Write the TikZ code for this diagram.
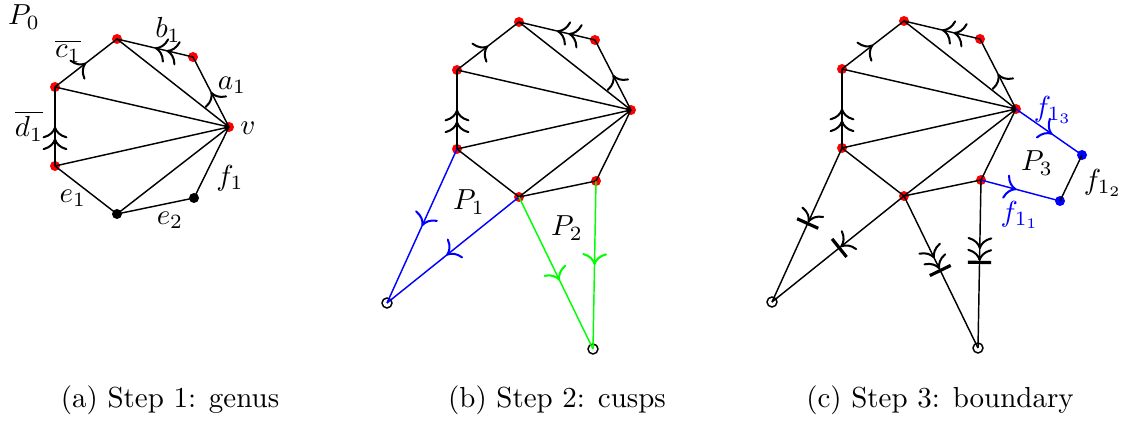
\documentclass[tikz,border=0pt]{standalone}
\usetikzlibrary{arrows.meta,decorations.markings}
\definecolor{vertred}{RGB}{255,0,0}
\definecolor{cuspblue}{RGB}{0,0,255}
\definecolor{cuspgreen}{RGB}{0,255,0}
\tikzset{
  tipone/.style={postaction={decorate},decoration={markings,
    mark=at position #1 with {\arrow[line width=0.7pt]{To[scale=1.3]}}}},
  tipone/.default=0.5,
  tiptwo/.style={postaction={decorate},decoration={markings,
    mark=at position #1 with {\arrow[line width=0.7pt]{To[scale=1.3]To[scale=1.3]}}}},
  tiptwo/.default=0.5,
  tipbar/.style={postaction={decorate},decoration={markings,
    mark=at position #1 with {\arrow[line width=0.7pt]{To[scale=1.3]Bar[width=8pt,line width=1.1pt]}}}},
  tipbar/.default=0.5,
  tipbartwo/.style={postaction={decorate},decoration={markings,
    mark=at position #1 with {\arrow[line width=0.7pt]{To[scale=1.3]To[scale=1.3]Bar[width=8pt,line width=1.1pt]}}}},
  tipbartwo/.default=0.5,
}

\begin{document}
\begin{tikzpicture}[x=0.345pt,y=-0.345pt,line width=0.5pt]
  \useasboundingbox (0,0) rectangle (1125,421);
  % the same polygon in each panel
  \foreach \p/\dx/\dy in {a/0/0,b/402/-17,c/787/-18} {
    \begin{scope}[shift={(\dx,\dy)}]
      \coordinate (\p T) at (117,39);
      \coordinate (\p B) at (193,57);
      \coordinate (\p V) at (229,127);
      \coordinate (\p F) at (194,198);
      \coordinate (\p M) at (117,214);
      \coordinate (\p L) at (55,166);
      \coordinate (\p U) at (55,87);
      \coordinate (\p C) at (-15,320);
      \coordinate (\p D) at (191,366);
    \end{scope}
  }
  \coordinate (cQ) at (1082,155);
  \coordinate (cR) at (1060,201);

  \foreach \p in {a,b,c} {
    \foreach \q in {T,B,V,U,L}
      \fill[vertred] (\p\q) circle (5);
  }
  \fill[black] (aF) circle (5) (aM) circle (5);
  \fill[vertred] (bF) circle (5) (bM) circle (5) (cF) circle (5) (cM) circle (5);
  \fill[cuspblue] (cQ) circle (5) (cR) circle (5);
  \draw (bC) circle (5) (bD) circle (5) (cC) circle (5) (cD) circle (5);

  \foreach \p in {a,b,c} {
    \draw (\p V) -- (\p T) (\p V) -- (\p U) (\p V) -- (\p L) (\p V) -- (\p M);
    \draw (\p V) -- (\p F) -- (\p M) -- (\p L);
    \draw[tipone] (\p U) -- (\p T);
    \draw[tiptwo] (\p B) -- (\p T);
    \draw[tipone] (\p V) -- (\p B);
    \draw[tiptwo] (\p L) -- (\p U);
  }

  % step 2
  \draw[cuspblue,tipone] (bL) -- (bC);
  \draw[cuspblue,tipone=0.55] (bM) -- (bC);
  \draw[cuspgreen,tipone=0.55] (bM) -- (bD);
  \draw[cuspgreen,tipone] (bF) -- (bD);

  % step 3
  \draw[tipbar] (cL) -- (cC);
  \draw[tipbar] (cM) -- (cC);
  \draw[tipbartwo] (cM) -- (cD);
  \draw[tipbartwo] (cF) -- (cD);
  \draw[cuspblue,tipone=0.55] (cV) -- (cQ);
  \draw[cuspblue,tipone=0.45] (cF) -- (cR);
  \draw (cQ) -- (cR);

  % labels
  \node (lPa) at (24,17) {$P_0$};
  \node (lc) at (68,51) {$\overline{c_1}$};
  \node (lb) at (168,30) {$b_1$};
  \node (la) at (232,85) {$a_1$};
  \node (lv) at (248,128) {$v$};
  \node (ld) at (29,126) {$\overline{d_1}$};
  \node (lf) at (230,178) {$f_1$};
  \node (le) at (73,198) {$e_1$};
  \node (lee) at (170,220) {$e_2$};
  \node (lPb) at (469,202) {$P_1$};
  \node (lPc) at (567,228) {$P_2$};
  \node (lPd) at (1037,163) {$P_3$};
  \node[text=cuspblue] (lft) at (1053,110) {$f_{1_3}$};
  \node (lfs) at (1103,183) {$f_{1_2}$};
  \node[text=cuspblue] (lfo) at (1020,215) {$f_{1_1}$};

  % captions
  \node (capa) at (170,400) {(a) Step 1: genus};
  \node (capb) at (557,400) {(b) Step 2: cusps};
  \node (capc) at (940,400) {(c) Step 3: boundary};
\end{tikzpicture}
\end{document}
